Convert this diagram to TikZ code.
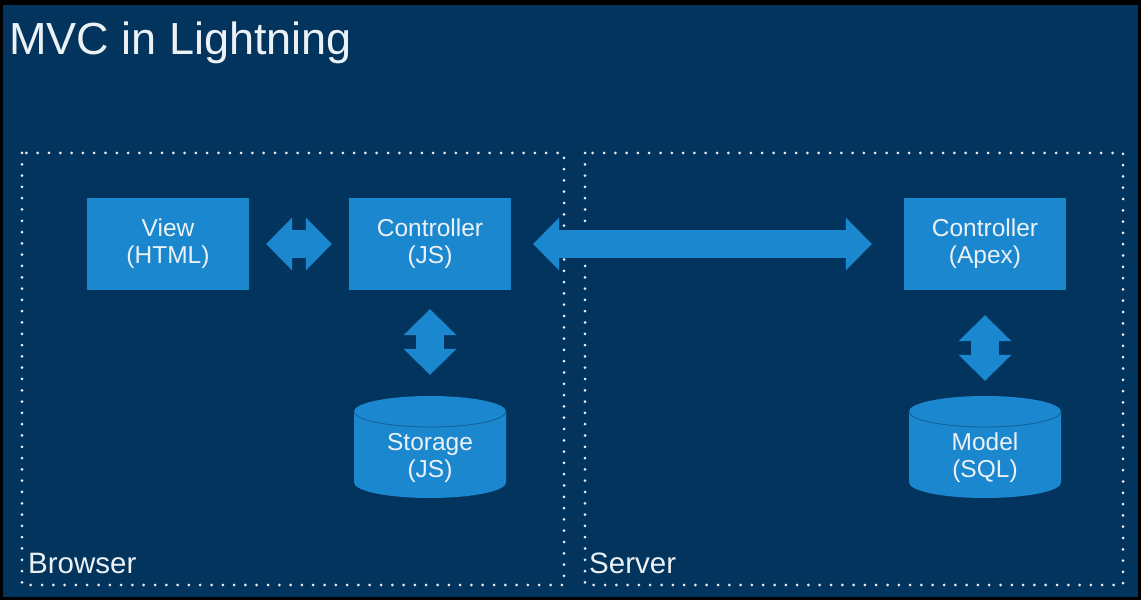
\documentclass[tikz,border=0pt]{standalone}
\usepackage{fontspec}
\setmainfont{Liberation Sans}
\usetikzlibrary{arrows.meta}
\definecolor{navy}{RGB}{3,52,94}
\definecolor{boxblue}{RGB}{27,135,206}
\definecolor{rimblue}{RGB}{18,96,152}
\definecolor{inkwhite}{RGB}{236,241,246}
\begin{document}
\begin{tikzpicture}[x=1pt,y=1pt,
    box/.style = {rectangle,fill=boxblue,text=inkwhite,minimum width=162pt,minimum height=92pt,align=center,font=\fontsize{24.5}{27}\selectfont},
    drum/.style = {rectangle,text=inkwhite,minimum width=152pt,minimum height=62pt,align=center,font=\fontsize{24.5}{27}\selectfont},
    zone/.style = {draw=inkwhite,line width=3pt,line cap=round,dash pattern=on 0pt off 11.3pt},
    tag/.style = {anchor=base west,inner sep=0pt,text=inkwhite,font=\fontsize{29.5}{34}\selectfont},
    fat/.style = {draw=boxblue,line width=28pt,>={Triangle[length=26pt,width=53pt,line width=0pt]},<->}]
\useasboundingbox (0,0) rectangle (1141,600);
\fill[black] (0,0) rectangle (1141,600);
\fill[navy] (3,3) rectangle (1138,595);
\node[tag,font=\fontsize{45}{54}\selectfont] (title) at (9,545) {MVC in Lightning};
% browser and server areas
\draw[zone] (22,447) rectangle (564,15);
\draw[zone] (585,447) rectangle (1123,15);
\node[tag] (browser) at (28,27) {Browser};
\node[tag] (server) at (589,27) {Server};
% boxes
\node[box] (view) at (168,356) {View\\(HTML)};
\node[box] (ctrljs) at (430,356) {Controller\\(JS)};
\node[box] (ctrlapex) at (985,356) {Controller\\(Apex)};
\foreach \nm/\cx/\txt in {storage/430/{Storage\\(JS)}, model/985/{Model\\(SQL)}} {
    \fill[boxblue] (\cx-76,188.5) arc[start angle=180,end angle=0,x radius=76,y radius=15.5]
        -- (\cx+76,117.5) arc[start angle=0,end angle=-180,x radius=76,y radius=15.5] -- cycle;
    \draw[rimblue,thick] (\cx-76,188.5) arc[start angle=180,end angle=360,x radius=76,y radius=15.5];
    \node[drum] (\nm) at (\cx,142) {\txt};
}
% arrows
\draw[fat,shorten <=17pt,shorten >=17pt] (view) -- (ctrljs);
\draw[fat,shorten <=22pt,shorten >=32pt] (ctrljs) -- (ctrlapex);
\draw[fat,shorten <=19pt,shorten >=52pt] (ctrljs) -- (storage);
\draw[fat,shorten <=25pt,shorten >=46pt] (ctrlapex) -- (model);
\end{tikzpicture}
\end{document}
